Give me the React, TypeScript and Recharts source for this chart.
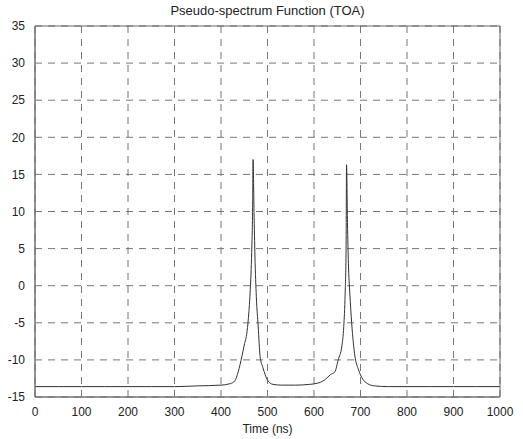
import React from "react";
import {
  LineChart,
  Line,
  XAxis,
  YAxis,
  CartesianGrid,
  ReferenceArea,
} from "recharts";

const timeNs = [
  0, 50, 100, 150, 200, 250, 300, 350, 400, 420, 430, 437, 445, 450, 456,
  460, 463, 466, 468, 469, 471, 473, 476, 480, 484, 490, 495, 499, 505, 512,
  530, 560, 590, 610, 625, 635, 645, 652, 660, 664, 667, 669, 670, 672, 674,
  677, 681, 688, 695, 705, 715, 730, 760, 800, 850, 900, 950, 1000,
];
const spectrum = [
  -13.6, -13.6, -13.6, -13.6, -13.6, -13.6, -13.6, -13.5, -13.4, -13.2,
  -12.8, -11.6, -9.5, -8.0, -6.2, -3.5, -0.5, 4.5, 10.5, 17.0, 10.0, 4.0,
  -1.5, -5.5, -9.5, -11.0, -12.0, -12.6, -13.1, -13.3, -13.4, -13.4, -13.3,
  -13.1, -12.6, -12.0, -11.6, -10.0, -8.1, -5.5, -1.0, 5.0, 16.3, 8.5, 3.0,
  -1.0, -5.0, -9.5, -11.2, -12.6, -13.2, -13.5, -13.6, -13.6, -13.6, -13.6,
  -13.6, -13.6,
];
const xTicks = [0, 100, 200, 300, 400, 500, 600, 700, 800, 900, 1000];
const yTicks = [-15, -10, -5, 0, 5, 10, 15, 20, 25, 30, 35];

const data = timeNs.map((t, i) => ({ t, v: spectrum[i] }));

const FONT = "'Liberation Sans', Arial, sans-serif";

export default function App() {
  return (
    <div
      style={{
        position: "absolute",
        left: 0,
        top: 0,
        width: 523,
        height: 439,
        background: "#fff",
        fontFamily: FONT,
      }}
    >
      <div
        style={{
          position: "absolute",
          top: 3,
          left: 35,
          width: 465,
          textAlign: "center",
          fontSize: 13,
          color: "#222",
        }}
      >
        Pseudo-spectrum Function (TOA)
      </div>
      <LineChart
        width={523}
        height={439}
        data={data}
        margin={{ top: 26, right: 23, bottom: 12, left: 5 }}
      >
        <CartesianGrid
          stroke="#777"
          strokeDasharray="7 6"
          horizontalValues={yTicks}
          verticalValues={xTicks}
        />
        <XAxis
          dataKey="t"
          type="number"
          domain={[0, 1000]}
          ticks={xTicks}
          tickLine={false}
          axisLine={{ stroke: "#777" }}
          tick={{ fontSize: 12, fill: "#222", fontFamily: FONT }}
          tickMargin={4}
          height={30}
          interval={0}
          label={{
            value: "Time (ns)",
            position: "insideBottom",
            offset: -6,
            fontSize: 12,
            fill: "#222",
            fontFamily: FONT,
          }}
        />
        <YAxis
          type="number"
          domain={[-15, 35]}
          ticks={yTicks}
          tickLine={false}
          axisLine={{ stroke: "#777" }}
          tick={{ fontSize: 12, fill: "#222", fontFamily: FONT }}
          tickMargin={4}
          width={30}
          interval={0}
        />
        <ReferenceArea
          x1={0}
          x2={1000}
          y1={-15}
          y2={35}
          fill="none"
          stroke="#666"
          strokeWidth={1}
        />
        <Line
          type="monotone"
          dataKey="v"
          stroke="#333"
          strokeWidth={1}
          dot={false}
          isAnimationActive={false}
        />
      </LineChart>
    </div>
  );
}
